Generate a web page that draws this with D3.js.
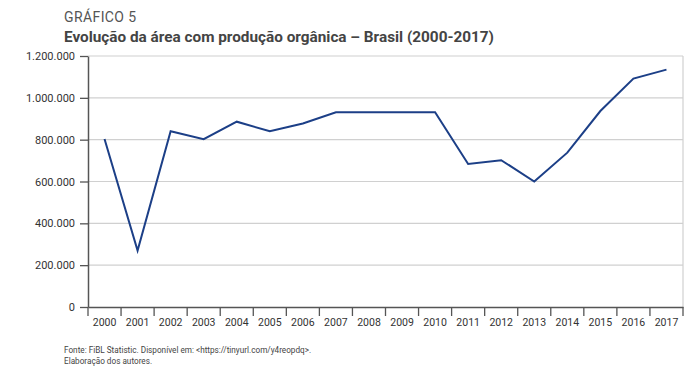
<!DOCTYPE html>
<html><head><meta charset="utf-8">
<script src="https://cdn.jsdelivr.net/npm/d3@7"></script>
<style>body{margin:0;background:#fff}svg{display:block}</style>
</head><body>
<svg id="c" width="692" height="385"></svg>
<script>
const years = ["2000","2001","2002","2003","2004","2005","2006","2007","2008","2009","2010","2011","2012","2013","2014","2015","2016","2017"];
const area = [803000,270000,840000,802000,886000,840000,877000,931000,931000,931000,931000,684000,702000,600000,738000,937000,1092000,1135000];
const yTicks = [0,200000,400000,600000,800000,1000000,1200000];

const svg = d3.select("#c");
const F = "'Roboto',sans-serif";
const L=88, R=683, T=56, B=307;
const x = d3.scaleBand().domain(years).range([L,R]);
const y = d3.scaleLinear().domain([0,1200000]).range([B,T]);
const fmt = v => d3.format(",")(v).replace(/,/g,".");

svg.append("text").attr("x",64).attr("y",22).attr("font-family",F).attr("font-size",14)
  .attr("letter-spacing","0.4px").attr("fill","#555").text("GRÁFICO 5");
const title = svg.append("text").attr("x",64).attr("y",42).attr("font-family",F).attr("font-size",15.5).attr("font-weight","bold")
  .attr("fill","#444").text("Evolução da área com produção orgânica – Brasil (2000-2017)");
const tw = title.node().getComputedTextLength();
if (tw > 430) title.attr("textLength",430).attr("lengthAdjust","spacingAndGlyphs");

// grid
svg.append("g").selectAll("line").data(yTicks.filter(d=>d>0)).join("line")
  .attr("x1",L).attr("x2",R).attr("y1",d=>y(d)).attr("y2",d=>y(d))
  .attr("stroke","#d0d0d0").attr("stroke-width",1.2);
svg.append("line").attr("x1",R).attr("x2",R).attr("y1",T).attr("y2",B).attr("stroke","#d0d0d0").attr("stroke-width",1.2);

// y axis
const ya = svg.append("g").attr("transform",`translate(${L},0)`)
  .call(d3.axisLeft(y).tickValues(yTicks).tickFormat(fmt).tickSize(8).tickSizeOuter(0));
ya.select(".domain").attr("stroke","#555").attr("stroke-width",1.5);
ya.selectAll(".tick line").attr("stroke","#555").attr("stroke-width",1.3);
ya.selectAll("text").attr("font-family",F).attr("font-size",11).attr("fill","#333").attr("x",-13);

// x axis
const xa = svg.append("g").attr("transform",`translate(0,${B})`)
  .call(d3.axisBottom(x).tickSize(0).tickSizeOuter(0));
xa.select(".domain").attr("stroke","#555").attr("stroke-width",1.5);
xa.selectAll("text").attr("font-family",F).attr("font-size",10.5).attr("fill","#333").attr("dy","1.25em").attr("y",6);
const bounds = years.map(d=>x(d)).concat([R]);
svg.append("g").selectAll("line").data(bounds).join("line")
  .attr("x1",d=>d).attr("x2",d=>d).attr("y1",B).attr("y2",B+9).attr("stroke","#555").attr("stroke-width",1.3);

// line
svg.append("path").datum(area)
  .attr("d", d3.line().x((d,i)=>x(years[i])+x.bandwidth()/2).y(d=>y(d)))
  .attr("fill","none").attr("stroke","#1c3f87").attr("stroke-width",2);

svg.append("text").attr("x",64).attr("y",353).attr("font-family",F).attr("font-size",8.2).attr("fill","#444")
  .text("Fonte: FiBL Statistic. Disponível em: <https://tinyurl.com/y4reopdq>.");
svg.append("text").attr("x",64).attr("y",364).attr("font-family",F).attr("font-size",8.2).attr("fill","#444")
  .text("Elaboração dos autores.");
</script>
</body></html>
